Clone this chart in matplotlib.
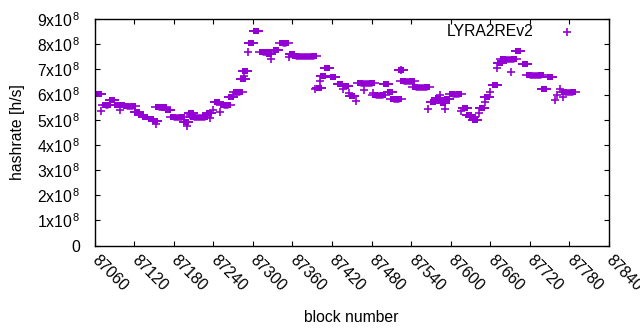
import matplotlib
matplotlib.use('Agg')
import matplotlib.pyplot as plt
import numpy as np

plt.rcParams['font.family'] = ['Liberation Sans', 'DejaVu Sans']
plt.rcParams['mathtext.fontset'] = 'custom'
plt.rcParams['mathtext.rm'] = 'Liberation Sans'
plt.rcParams['mathtext.it'] = 'Liberation Sans'

# bloques sueltos, dibujados como '+'  (hashrate en unidades de 1e8 h/s)
plus_blocks = [87070, 87099, 87153, 87200, 87205, 87235, 87239, 87251, 87270,
               87287, 87292, 87328, 87355, 87395, 87402, 87436, 87446, 87456,
               87468, 87482, 87525, 87566, 87584, 87592, 87615, 87643, 87652,
               87659, 87670, 87692, 87758, 87761, 87765, 87770]
plus_rates = [5.33, 5.40, 4.84, 4.76, 5.20, 5.07, 5.40, 5.30, 6.00,
              6.75, 7.70, 7.42, 7.50, 6.20, 6.53, 6.20, 6.04, 5.73,
              6.17, 6.06, 6.99, 5.43, 6.00, 5.44, 5.33, 5.27, 5.69,
              6.10, 7.06, 6.89, 5.80, 6.00, 6.22, 5.89]

# rachas de bloques con el mismo valor, dibujadas como cajas rellenas
box_start = [87067, 87076, 87087, 87094, 87102, 87108, 87125, 87130, 87137,
             87146, 87152, 87156, 87172, 87179, 87199, 87206, 87209, 87233,
             87245, 87255, 87267, 87275, 87285, 87288, 87298, 87305, 87314,
             87325, 87335, 87345, 87359, 87364, 87400, 87406, 87413, 87422,
             87432, 87441, 87451, 87463, 87485, 87502, 87508, 87513, 87525,
             87528, 87546, 87573, 87580, 87589, 87595, 87602, 87621, 87627,
             87632, 87637, 87647, 87655, 87667, 87675, 87679, 87702, 87712,
             87719, 87741, 87750, 87772]
box_end = [87067, 87080, 87087, 87094, 87102, 87118, 87125, 87130, 87137,
           87146, 87152, 87165, 87172, 87193, 87199, 87206, 87228, 87233,
           87245, 87262, 87267, 87281, 87285, 87288, 87298, 87305, 87321,
           87325, 87335, 87351, 87359, 87393, 87400, 87406, 87413, 87422,
           87432, 87441, 87451, 87480, 87498, 87502, 87508, 87522, 87525,
           87541, 87564, 87573, 87580, 87589, 87595, 87613, 87621, 87627,
           87632, 87637, 87647, 87655, 87667, 87675, 87696, 87702, 87712,
           87737, 87741, 87750, 87786]
box_rate = [6.02, 5.60, 5.80, 5.58, 5.60, 5.53, 5.30, 5.20, 5.10,
            5.04, 4.93, 5.50, 5.40, 5.10, 4.89, 5.27, 5.10, 5.27,
            5.70, 5.57, 5.90, 6.10, 6.63, 6.95, 8.05, 8.53, 7.70,
            7.59, 7.78, 8.05, 7.62, 7.54, 6.26, 6.75, 7.06, 6.70,
            6.42, 6.33, 5.93, 6.45, 5.97, 6.42, 6.10, 5.82, 6.99,
            6.55, 6.30, 5.70, 5.86, 5.67, 5.82, 6.02, 5.47, 5.20,
            5.10, 5.00, 5.47, 5.90, 6.37, 7.26, 7.42, 7.74, 7.22,
            6.77, 6.22, 6.70, 6.10]

x_ticks = [87060, 87120, 87180, 87240, 87300, 87360, 87420, 87480,
           87540, 87600, 87660, 87720, 87780, 87840]
y_ticks = [0, 1, 2, 3, 4, 5, 6, 7, 8, 9]

color = '#9400d3'
escala = 1e8
fs = 11.3

fig = plt.figure(figsize=(6.4, 3.3), dpi=100)
ax = fig.add_axes([94.5 / 640, 84.5 / 330, 514.5 / 640, 226.5 / 330])

# cajas
for s, e, r in zip(box_start, box_end, box_rate):
    ax.plot([s, e], [r * escala, r * escala], color=color, lw=4.7,
            solid_capstyle='butt')
    ax.plot([s, e], [r * escala, r * escala], ls='none', marker='s', ms=4.7,
            mew=0, color=color)
    ax.plot([s, e], [r * escala, r * escala], ls='none', marker='_', ms=9.5,
            mew=1.2, color=color)

ax.plot(plus_blocks, np.array(plus_rates) * escala, ls='none', marker='+',
        ms=5.5, mew=1.2, color=color)

ax.set_xlim(87060, 87840)
ax.set_ylim(0, 9e8)

ax.set_xticks(x_ticks)
ax.set_xticklabels([str(t) for t in x_ticks], rotation=-45, ha='left',
                   va='center', rotation_mode='anchor')
ax.set_yticks([v * escala for v in y_ticks])
ax.set_yticklabels(['0' if v == 0 else f'{v}x10$^{{\\,8}}$' for v in y_ticks])

ax.tick_params(direction='in', length=3.5, width=0.8, top=True, right=True,
               labelsize=fs, colors='black')
ax.tick_params(axis='x', pad=9)
ax.tick_params(axis='y', pad=10)
for sp in ax.spines.values():
    sp.set_linewidth(1.0)

ax.set_xlabel('block number', fontsize=fs, labelpad=11)
ax.set_ylabel('hashrate [h/s]', fontsize=fs, labelpad=9)

# leyenda a mano, como la de gnuplot
ax.text(0.854, 0.943, 'LYRA2REv2', transform=ax.transAxes, ha='right',
        va='center', fontsize=fs)
ax.plot([0.918], [0.943], transform=ax.transAxes, ls='none', marker='+',
        ms=5.5, mew=1.2, color=color, clip_on=False)

fig.savefig('out.png', dpi=100)
